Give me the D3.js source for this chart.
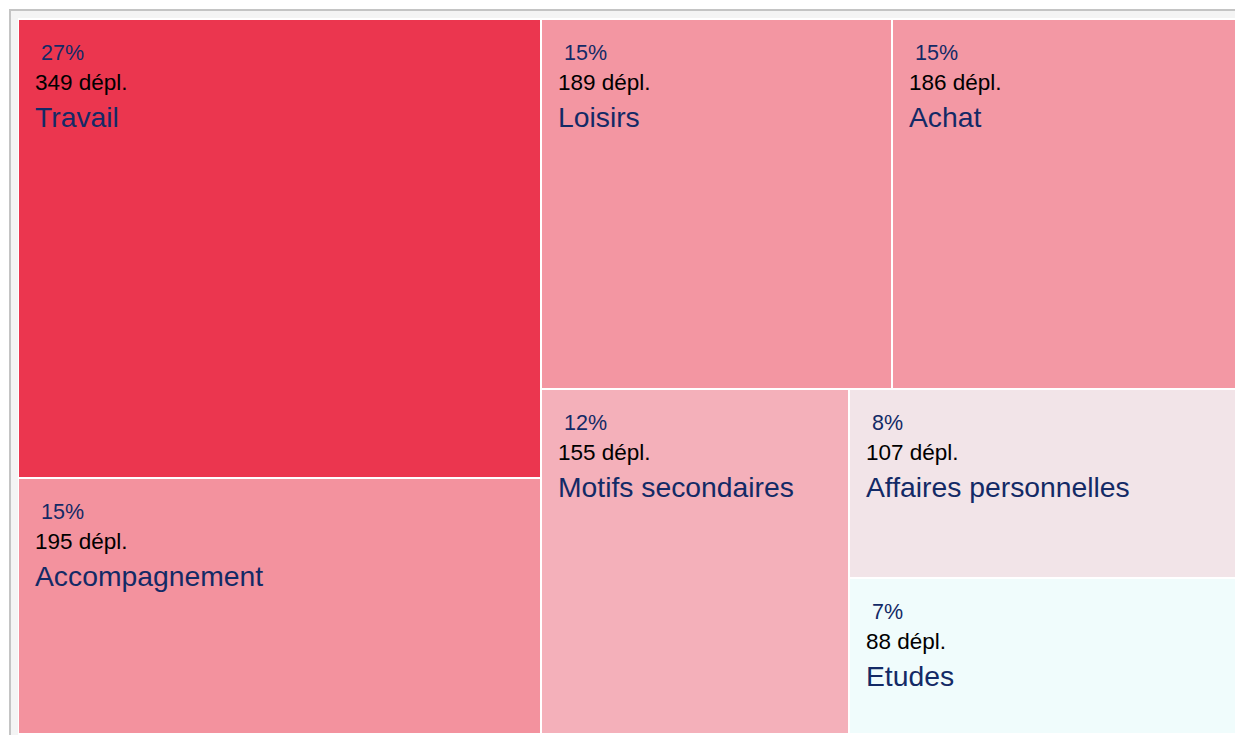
<!DOCTYPE html>
<html>
<head>
<meta charset="utf-8">
<script src="https://cdn.jsdelivr.net/npm/d3@7"></script>
<style>
  body { margin: 0; background: #fff; overflow: hidden; }
  #chart { position: absolute; left: 0; top: 0; }
</style>
</head>
<body>
<div id="chart"></div>
<script>
// motifs de déplacement
var motifs = ["Travail", "Accompagnement", "Loisirs", "Achat", "Motifs secondaires", "Affaires personnelles", "Etudes"];
var deplacements = [349, 195, 189, 186, 155, 107, 88];
var parts = [27, 15, 15, 15, 12, 8, 7];

var width = 1235, height = 735;

var svg = d3.select("#chart").append("svg")
    .attr("width", width)
    .attr("height", height);

// cadre
svg.append("rect")
    .attr("x", 10).attr("y", 10)
    .attr("width", 1260).attr("height", 760)
    .attr("fill", "#f4f4f4")
    .attr("stroke", "#c4c4c4")
    .attr("stroke-width", 2);

svg.append("rect")
    .attr("x", 18).attr("y", 18)
    .attr("width", 1250).attr("height", 750)
    .attr("fill", "#fff");

var color = d3.scaleLinear()
    .domain([88, 107, 155, 190, 349])
    .range(["#f0fcfc", "#f2e4e8", "#f4b0ba", "#f395a1", "#eb364f"]);

var data = motifs.map(function(m, i) {
    return { name: m, value: deplacements[i], pct: parts[i] };
});

var root = d3.hierarchy({ children: data })
    .sum(function(d) { return d.value || 0; })
    .sort(function(a, b) { return b.value - a.value; });

d3.treemap()
    .tile(d3.treemapSquarify)
    .size([1217, 713])
    .paddingInner(2)
    .round(true)(root);

var g = svg.append("g")
    .attr("transform", "translate(19,20)");

var cell = g.selectAll("g.cell")
    .data(root.leaves())
    .enter().append("g")
    .attr("class", "cell")
    .attr("transform", function(d) { return "translate(" + d.x0 + "," + d.y0 + ")"; });

cell.append("rect")
    .attr("width", function(d) { return d.x1 - d.x0; })
    .attr("height", function(d) { return d.y1 - d.y0; })
    .attr("fill", function(d) { return color(d.data.value); });

cell.append("text")
    .attr("x", 22).attr("y", 40)
    .style("font-family", "Liberation Sans, Arial, sans-serif")
    .style("font-size", "21.5px")
    .style("fill", "#132a66")
    .text(function(d) { return d.data.pct + "%"; });

cell.append("text")
    .attr("x", 16).attr("y", 70)
    .style("font-family", "Liberation Sans, Arial, sans-serif")
    .style("font-size", "22.5px")
    .style("fill", "#000")
    .text(function(d) { return d.data.value + " dépl."; });

cell.append("text")
    .attr("x", 16).attr("y", 107)
    .style("font-family", "Liberation Sans, Arial, sans-serif")
    .style("font-size", "28.3px")
    .style("fill", "#132a66")
    .text(function(d) { return d.data.name; });
</script>
</body>
</html>
